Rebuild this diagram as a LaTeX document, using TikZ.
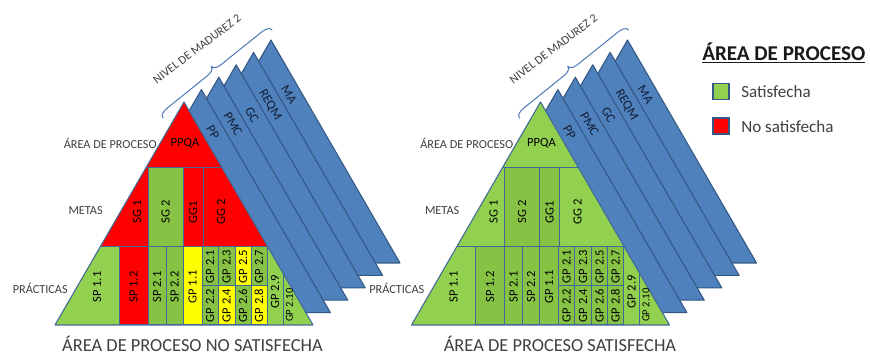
\documentclass[tikz,border=0pt]{standalone}
\usepackage{fontspec}
\setmainfont{Carlito}

\definecolor{cred}{RGB}{255,0,0}
\definecolor{cyel}{RGB}{255,255,0}
\definecolor{cgreen}{RGB}{146,208,80}
\definecolor{cgreenR}{RGB}{134,195,68}
\definecolor{cblue}{RGB}{79,129,189}
\definecolor{cblueline}{RGB}{52,88,132}
\definecolor{cline}{RGB}{65,105,150}
\definecolor{ctext}{RGB}{64,64,64}
\definecolor{cband}{RGB}{18,30,55}
\definecolor{cbrace}{RGB}{79,120,180}

\tikzset{
  copyshape/.style={fill=cblue, draw=cblueline, line width=0.8pt, line join=round},
  cell/.style={draw=cline, line width=0.75pt},
  triline/.style={draw=cline, line width=0.8pt, line join=round},
  cl/.style={font=\fontsize{9.4}{10}\selectfont, rotate=90, inner sep=0pt, text=black},
  clsmall/.style={font=\fontsize{8}{9}\selectfont, rotate=90, inner sep=0pt, text=black},
  clh/.style={font=\fontsize{9.4}{10}\selectfont, inner sep=0pt, text=black},
  bandlbl/.style={font=\fontsize{9.8}{10}\selectfont, rotate=-60, inner sep=0pt, text=cband},
  sidelbl/.style={font=\fontsize{9.2}{10}\selectfont, inner sep=0pt, text=ctext, anchor=east},
  nivellbl/.style={font=\fontsize{9}{10}\selectfont, inner sep=0pt, text=ctext, rotate=37},
  bigtitle/.style={font=\fontsize{13.8}{16}\selectfont, inner sep=0pt, text=ctext},
  legsq/.style={draw=cblueline, line width=1.3pt, minimum width=12.5pt, minimum height=12pt, inner sep=0pt},
  legtxt/.style={font=\fontsize{12.8}{14}\selectfont, inner sep=0pt, text=ctext, anchor=west},
  bracestyle/.style={draw=cbrace, line width=0.75pt, line cap=round, line join=round},
}

% #1 = name prefix
\newcommand\drawpyramid[1]{%
  % stacked blue process-area triangles behind
  \foreach \k in {5,4,3,2,1}{%
    \filldraw[copyshape] ({184+17.4*\k},{102-12.4*\k}) -- ({313+17.4*\k},{325-12.4*\k})
      -- ({55+17.4*\k},{325-12.4*\k}) -- cycle;
  }
  \node[bandlbl] (#1-pp) at (213,132) {PP};
  \node[bandlbl] (#1-pmc) at (233,124) {PMC};
  \node[bandlbl] (#1-gc) at (252,115) {GC};
  \node[bandlbl] (#1-reqm) at (270,105) {REQM};
  \node[bandlbl] (#1-ma) at (289,95) {MA};
  % rows of the main triangle
  \fill[cRowA] (184,102) -- (222.2,168) -- (145.8,168) -- cycle;
  \fill[cRowB] (145.8,168) -- (222.2,168) -- (267.9,247) -- (100.1,247) -- cycle;
  \fill[cgreen] (100.1,247) -- (267.9,247) -- (313,325) -- (55,325) -- cycle;
  % goal cells
  \draw[cell, fill=cSGtwo] (148,168) rectangle (183,247);
  \draw[cell, fill=cGGone] (183,168) rectangle (203,247);
  % practice cells
  \draw[cell, fill=cSPonetwo] (119,247) rectangle (148,325);
  \draw[cell, fill=cSPtwoone] (148,247) rectangle (166,325);
  \draw[cell, fill=cSPtwotwo] (166,247) rectangle (183,325);
  \draw[cell, fill=cGPoneone] (183,247) rectangle (202,325);
  \draw[cell, fill=cGa] (202,247) rectangle (218,286);
  \draw[cell, fill=cGb] (202,286) rectangle (218,325);
  \draw[cell, fill=cGc] (218,247) rectangle (235,286);
  \draw[cell, fill=cGd] (218,286) rectangle (235,325);
  \draw[cell, fill=cGe] (235,247) rectangle (251,286);
  \draw[cell, fill=cGf] (235,286) rectangle (251,325);
  \draw[cell, fill=cGg] (251,247) rectangle (267,286);
  \draw[cell, fill=cGh] (251,286) rectangle (267,325);
  \draw[cell] (283,273.1) -- (283,325);
  \draw[cell] (145.8,168) -- (222.2,168);
  \draw[cell] (100.1,247) -- (267.9,247);
  \draw[triline] (184,102) -- (313,325) -- (55,325) -- cycle;
  % labels in cells
  \node[clh] (#1-ppqa) at (185,143) {PPQA};
  \node[cl] (#1-sg1) at (137,212) {SG 1};
  \node[cl] (#1-sg2) at (165.5,212) {SG 2};
  \node[cl] (#1-gg1) at (193,212) {GG1};
  \node[cl] (#1-gg2) at (221,212) {GG 2};
  \node[cl] (#1-sp11) at (97,287) {SP 1.1};
  \node[cl] (#1-sp12) at (133.5,287) {SP 1.2};
  \node[cl] (#1-sp21) at (157,287) {SP 2.1};
  \node[cl] (#1-sp22) at (174.5,287) {SP 2.2};
  \node[cl] (#1-gp11) at (192.5,287) {GP 1.1};
  \node[cl] (#1-gp21) at (210,266.5) {GP 2.1};
  \node[cl] (#1-gp22) at (210,305.5) {GP 2.2};
  \node[cl] (#1-gp23) at (226.5,266.5) {GP 2.3};
  \node[cl] (#1-gp24) at (226.5,305.5) {GP 2.4};
  \node[cl] (#1-gp25) at (243,266.5) {GP 2.5};
  \node[cl] (#1-gp26) at (243,305.5) {GP 2.6};
  \node[cl] (#1-gp27) at (259,266.5) {GP 2.7};
  \node[cl] (#1-gp28) at (259,305.5) {GP 2.8};
  \node[cl] (#1-gp29) at (275,292) {GP 2.9};
  \node[clsmall] (#1-gp210) at (289.5,305) {GP 2.10};
  % side labels
  \node[sidelbl] (#1-area) at (157,143) {ÁREA DE PROCESO};
  \node[sidelbl] (#1-metas) at (103,211) {METAS};
  \node[sidelbl] (#1-prac) at (68,288) {PRÁCTICAS};
  % maturity level brace (tip pointing up-left, ends hooking down-right)
  \coordinate (#1-e1) at (163,118);
  \coordinate (#1-p1) at (167.6,107.8);
  \coordinate (#1-m1) at (206.6,76.4);
  \coordinate (#1-tip) at (211.2,66.2);
  \coordinate (#1-m2) at (222.1,63.8);
  \coordinate (#1-p2) at (261.1,32.4);
  \coordinate (#1-e2) at (272,30);
  \draw[bracestyle] (#1-e1) .. controls (160.5,114.9) and (163.8,111.0) .. (#1-p1)
    -- (#1-m1) .. controls (210.5,73.3) and (213.7,69.3) .. (#1-tip)
    .. controls (213.7,69.3) and (218.3,67.0) .. (#1-m2)
    -- (#1-p2) .. controls (265.0,29.3) and (269.5,26.9) .. (#1-e2);
  \node[nivellbl] (#1-nivel) at (197,49) {NIVEL DE MADUREZ 2};
}

\begin{document}
\begin{tikzpicture}[x=0.75pt, y=-0.75pt]
\useasboundingbox (0,0) rectangle (870,359);
\fill[white] (0,0) rectangle (870,359);

% left pyramid: not satisfied
\begin{scope}
  \colorlet{cRowA}{cred}\colorlet{cRowB}{cred}
  \colorlet{cSGtwo}{cgreenR}\colorlet{cGGone}{cred}
  \colorlet{cSPonetwo}{cred}\colorlet{cSPtwoone}{cgreenR}\colorlet{cSPtwotwo}{cgreenR}
  \colorlet{cGPoneone}{cyel}
  \colorlet{cGa}{cgreenR}\colorlet{cGb}{cgreenR}
  \colorlet{cGc}{cgreenR}\colorlet{cGd}{cyel}
  \colorlet{cGe}{cyel}\colorlet{cGf}{cgreenR}
  \colorlet{cGg}{cgreenR}\colorlet{cGh}{cyel}
  \drawpyramid{L}
\end{scope}

% right pyramid: satisfied
\begin{scope}[shift={(356.5,0)}]
  \colorlet{cRowA}{cgreen}\colorlet{cRowB}{cgreen}
  \colorlet{cSGtwo}{cgreenR}\colorlet{cGGone}{cgreenR}
  \colorlet{cSPonetwo}{cgreenR}\colorlet{cSPtwoone}{cgreenR}\colorlet{cSPtwotwo}{cgreenR}
  \colorlet{cGPoneone}{cgreenR}
  \colorlet{cGa}{cgreenR}\colorlet{cGb}{cgreenR}
  \colorlet{cGc}{cgreenR}\colorlet{cGd}{cgreenR}
  \colorlet{cGe}{cgreenR}\colorlet{cGf}{cgreenR}
  \colorlet{cGg}{cgreenR}\colorlet{cGh}{cgreenR}
  \drawpyramid{R}
\end{scope}

% titles
\node[bigtitle] (titleL) at (192.5,344) {ÁREA DE PROCESO NO SATISFECHA};
\node[bigtitle] (titleR) at (560,344) {ÁREA DE PROCESO SATISFECHA};

% legend
\node[font=\bfseries\fontsize{15.8}{18}\selectfont, inner sep=0pt, anchor=west, text=black!90] (legtitle) at (702,53) {\underline{ÁREA DE PROCESO}};
\node[legsq, fill=cgreen] (legsq1) at (721,91.5) {};
\node[legsq, fill=cred] (legsq2) at (721,126) {};
\node[legtxt] (legt1) at (741,92) {Satisfecha};
\node[legtxt] (legt2) at (741,127) {No satisfecha};
\end{tikzpicture}
\end{document}
